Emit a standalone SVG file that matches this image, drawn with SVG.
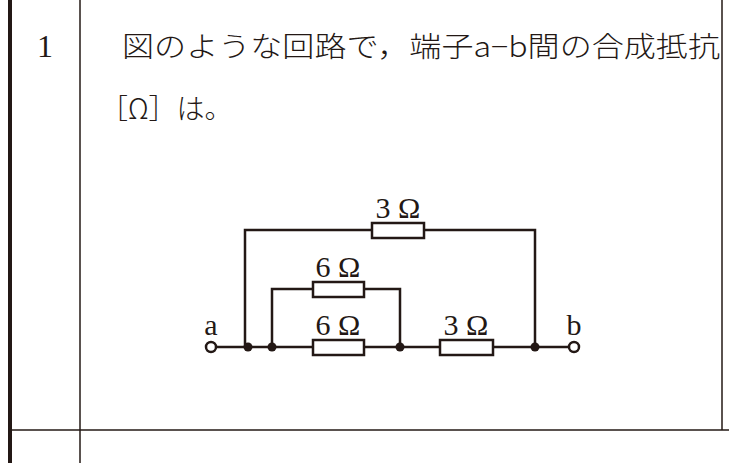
<svg xmlns="http://www.w3.org/2000/svg" width="729" height="463" viewBox="0 0 729 463">
<style>
.t{font-family:"Liberation Serif","Noto Sans CJK JP",serif;fill:#231815}
.j{font-family:"Noto Sans CJK JP",sans-serif;font-weight:300;fill:#231815;font-size:28px}
.l{font-size:30px}
.w{stroke:#231815;stroke-width:2.5;fill:none}
.r{stroke:#231815;stroke-width:2.5;fill:#fff}
.d{fill:#231815}
</style>
<rect width="729" height="463" fill="#fff"/>
<g id="frame" stroke="#231815">
<line x1="10" y1="0" x2="10" y2="463" stroke-width="4"/>
<line x1="80" y1="0" x2="80" y2="463" stroke-width="1.5"/>
<line x1="722" y1="0" x2="722" y2="430" stroke-width="1.5"/>
<line x1="10" y1="430" x2="729" y2="430" stroke-width="1.5"/>
</g>
<g id="text">
<text class="t" x="45" y="57" style="font-size:32px" text-anchor="middle">1</text>
<text class="j" x="122" y="57" textLength="598" lengthAdjust="spacingAndGlyphs">図のような回路で，端子a−b間の合成抵抗</text>
<text class="j" x="100" y="119">［Ω］は。</text>
</g>
<g id="connectors">
<path class="w" d="M215 347H569M245 347V230H535V347M272 347V289H400V347"/>
</g>
<g id="R1"><rect class="r" x="372" y="223" width="52" height="15"/><text class="t l" x="398" y="218" text-anchor="middle">3 Ω</text></g>
<g id="R2"><rect class="r" x="313" y="282" width="51" height="15"/><text class="t l" x="338" y="277" text-anchor="middle">6 Ω</text></g>
<g id="R3"><rect class="r" x="313" y="340" width="51" height="15"/><text class="t l" x="338" y="335" text-anchor="middle">6 Ω</text></g>
<g id="R4"><rect class="r" x="440" y="340" width="53" height="15"/><text class="t l" x="466" y="335" text-anchor="middle">3 Ω</text></g>
<g id="nodes">
<circle class="d" cx="248" cy="347" r="4.5"/>
<circle class="d" cx="272" cy="347" r="4.5"/>
<circle class="d" cx="400" cy="347" r="4.5"/>
<circle class="d" cx="535" cy="347" r="4.5"/>
</g>
<g id="a"><circle class="r" cx="211" cy="347" r="5"/><text class="t l" x="211" y="335" text-anchor="middle">a</text></g>
<g id="b"><circle class="r" cx="574" cy="347" r="5"/><text class="t l" x="574" y="335" text-anchor="middle">b</text></g>
</svg>
